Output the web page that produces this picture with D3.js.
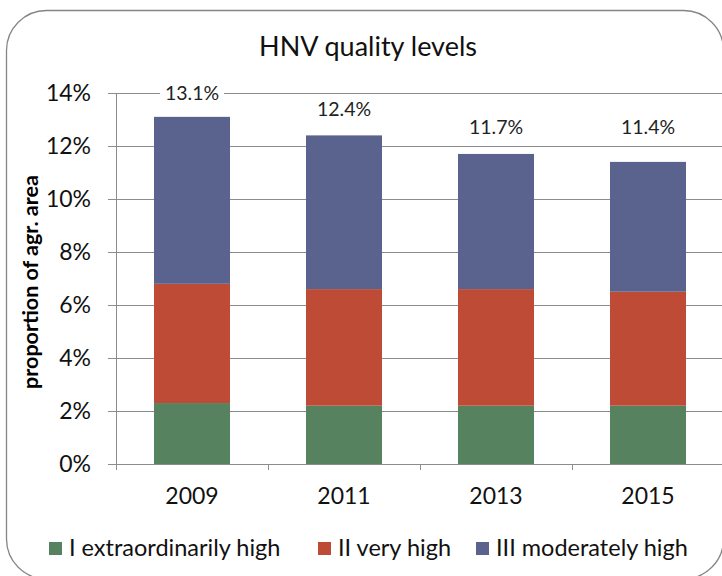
<!DOCTYPE html>
<html><head><meta charset="utf-8">
<script src="https://cdn.jsdelivr.net/npm/d3@7"></script>
<style>body{margin:0;background:#fff}svg{display:block}</style>
</head><body>
<svg id="c" width="722" height="576"></svg>
<script>
const categories = ["2009", "2011", "2013", "2015"];
const seriesNames = ["I extraordinarily high", "II very high", "III moderately high"];
const extraordinarilyHigh = [2.3, 2.2, 2.2, 2.2];
const veryHigh = [4.5, 4.4, 4.4, 4.3];
const moderatelyHigh = [6.3, 5.8, 5.1, 4.9];
const totalLabels = ["13.1%", "12.4%", "11.7%", "11.4%"];
const totalLabelPos = [14.0, 13.4, 12.7, 12.7];
const yTicks = [0, 2, 4, 6, 8, 10, 12, 14];
const colors = ["#568260", "#BE4B35", "#5A638D"];

const svg = d3.select("#c");
const FONT = "Lato, 'Open Sans', sans-serif";

// frame
svg.append("rect").attr("x", 6.5).attr("y", 10.5).attr("width", 717).attr("height", 568.5)
  .attr("rx", 40).attr("fill", "#fff").attr("stroke", "#858585").attr("stroke-width", 1.3);

const x0 = 116, x1 = 724, yTop = 93, yBot = 464;
const x = d3.scaleBand().domain(categories).range([x0, x1]).paddingInner(0.5).paddingOuter(0.25);
const xb = d3.scaleBand().domain(categories).range([x0, x1]);
const y = d3.scaleLinear().domain([0, 14]).range([yBot, yTop]);

// gridlines
svg.append("g").selectAll("line").data(yTicks).join("line")
  .attr("x1", x0 - 8).attr("x2", 722).attr("y1", d => Math.round(y(d)) + 0.5).attr("y2", d => Math.round(y(d)) + 0.5)
  .attr("stroke", "#8c8c8c").attr("stroke-width", 1);
// y axis line
svg.append("line").attr("x1", x0 + 0.5).attr("x2", x0 + 0.5).attr("y1", y(14)).attr("y2", yBot)
  .attr("stroke", "#8c8c8c");
// x ticks at category boundaries
svg.append("g").selectAll("line").data(categories).join("line")
  .attr("x1", d => Math.round(xb(d)) + 0.5).attr("x2", d => Math.round(xb(d)) + 0.5)
  .attr("y1", yBot).attr("y2", yBot + 6).attr("stroke", "#8c8c8c");

// stacked data
const rows = categories.map((c, i) => ({cat: c, s0: extraordinarilyHigh[i], s1: veryHigh[i], s2: moderatelyHigh[i]}));
const stack = d3.stack().keys(["s0", "s1", "s2"])(rows);
svg.append("g").selectAll("g").data(stack).join("g").attr("fill", (d, i) => colors[i])
  .selectAll("rect").data(d => d).join("rect")
  .attr("x", d => x(d.data.cat)).attr("width", x.bandwidth())
  .attr("y", d => y(d[1])).attr("height", d => y(d[0]) - y(d[1]));

// total labels
const lab = svg.append("g").selectAll("g").data(categories).join("g");
lab.append("rect")
  .attr("x", d => x(d) + x.bandwidth() / 2 - 32).attr("width", 64)
  .attr("y", (d, i) => y(totalLabelPos[i]) - 11).attr("height", 22).attr("fill", "#fff");
lab.append("text").attr("x", d => x(d) + x.bandwidth() / 2).attr("y", (d, i) => y(totalLabelPos[i]))
  .attr("dy", "0.35em").attr("text-anchor", "middle").attr("font-family", FONT).attr("font-size", 19.5)
  .attr("fill", "#222").text((d, i) => totalLabels[i]);

// y tick labels
svg.append("g").selectAll("text").data(yTicks).join("text")
  .attr("x", 91).attr("y", d => y(d)).attr("dy", "0.35em").attr("text-anchor", "end")
  .attr("font-family", FONT).attr("font-size", 23).attr("fill", "#111").text(d => d + "%");
// x labels
svg.append("g").selectAll("text").data(categories).join("text")
  .attr("x", d => xb(d) + xb.bandwidth() / 2).attr("y", 496).attr("dy", "0.35em").attr("text-anchor", "middle")
  .attr("font-family", FONT).attr("font-size", 23).attr("fill", "#111").text(d => d);

// title
svg.append("text").attr("x", 368).attr("y", 47).attr("dy", "0.35em").attr("text-anchor", "middle")
  .attr("font-family", FONT).attr("font-size", 27).attr("fill", "#111").text("HNV quality levels");
// y title
svg.append("text").attr("transform", "translate(30,282) rotate(-90)").attr("dy", "0.35em").attr("text-anchor", "middle")
  .attr("font-family", FONT).attr("font-size", 21.5).attr("font-weight", "bold").attr("fill", "#000")
  .text("proportion of agr. area");

// legend
const legX = [49, 318, 476];
const lg = svg.append("g").selectAll("g").data(seriesNames).join("g")
  .attr("transform", (d, i) => `translate(${legX[i]},548)`);
lg.append("rect").attr("x", 0).attr("y", -6).attr("width", 13).attr("height", 13).attr("fill", (d, i) => colors[i]);
lg.append("text").attr("x", 20).attr("y", 0).attr("dy", "0.35em").attr("font-family", FONT).attr("font-size", 23.5)
  .attr("fill", "#111").text(d => d);
</script>
</body></html>
